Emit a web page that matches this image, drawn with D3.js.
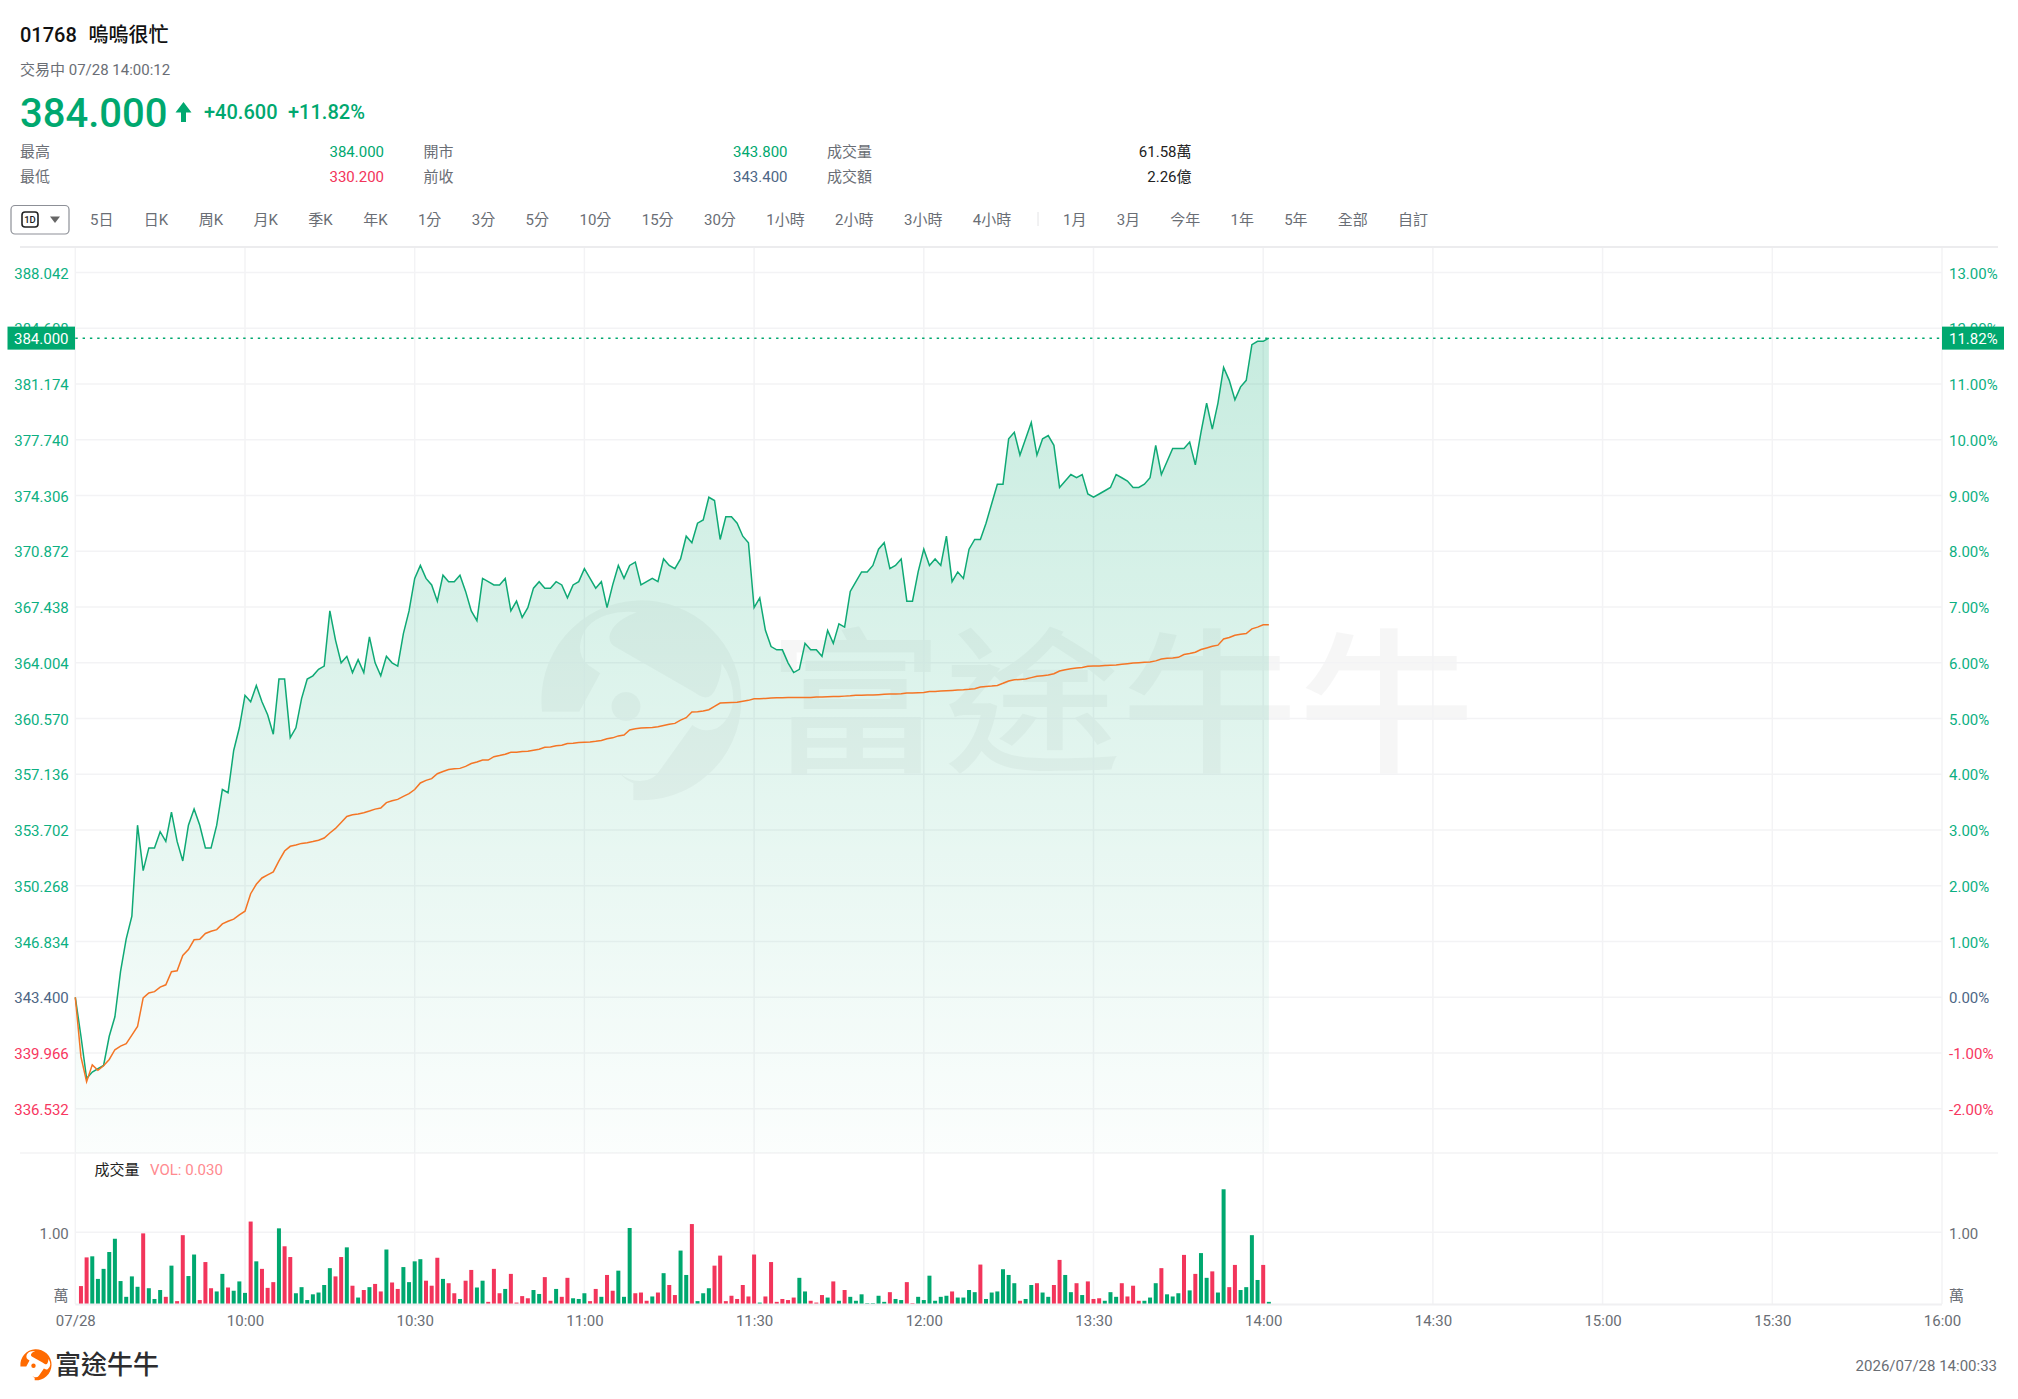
<!DOCTYPE html>
<html lang="zh-Hant">
<head>
<meta charset="UTF-8">
<title>01768 嗚嗚很忙</title>
<script src="https://d3js.org/d3.v7.min.js"></script>
<style>
  body { margin: 0; background: #fff; overflow: hidden; font-family: Roboto, "Noto Sans CJK TC", sans-serif; }
  svg { display: block; }
  svg text { font-family: Roboto, "Noto Sans CJK TC", sans-serif; }
  .axis text { font-size: 15px; }
  .axis .domain { display: none; }
</style>
</head>
<body>
<div id="chart"></div>
<script>
// quote header
const stockCode = "01768";
const stockName = "嗚嗚很忙";
const statusLine = "交易中 07/28 14:00:12";
const lastPrice = 384.0;
const prevClose = 343.4;
const changeText = "+40.600";
const changePct = "+11.82%";
const printedAt = "2026/07/28 14:00:33";

// toolbar
const toolbarLeft = ["5日", "日K", "周K", "月K", "季K", "年K", "1分", "3分", "5分", "10分", "15分", "30分", "1小時", "2小時", "3小時", "4小時"];
const toolbarRight = ["1月", "3月", "今年", "1年", "5年", "全部", "自訂"];

// axes
const priceTicks = [388.042, 384.608, 381.174, 377.74, 374.306, 370.872, 367.438, 364.004, 360.57, 357.136, 353.702, 350.268, 346.834, 343.4, 339.966, 336.532];
const pctTicks = ["13.00%", "12.00%", "11.00%", "10.00%", "9.00%", "8.00%", "7.00%", "6.00%", "5.00%", "4.00%", "3.00%", "2.00%", "1.00%", "0.00%", "-1.00%", "-2.00%"];
const timeTicks = [0, 30, 60, 90, 120, 150, 180, 210, 240, 270, 300, 330];
const timeLabels = ["07/28", "10:00", "10:30", "11:00", "11:30", "12:00", "13:30", "14:00", "14:30", "15:00", "15:30", "16:00"];

// last price per trading minute, index 0 = 09:30
const price = [
  343.4, 341.0, 338.4, 338.8, 339.0, 339.2, 341.0, 342.2, 345.0, 347.0,
  348.4, 354.0, 351.2, 352.6, 352.6, 353.6, 353.0, 354.8, 353.0, 351.8,
  354.0, 355.0, 354.0, 352.6, 352.6, 354.0, 356.2, 356.0, 358.6, 360.0,
  362.0, 361.6, 362.6, 361.6, 360.8, 359.6, 363.0, 363.0, 359.4, 360.0,
  361.8, 363.0, 363.2, 363.6, 363.8, 367.2, 365.4, 364.0, 364.4, 363.4,
  364.2, 363.4, 365.6, 364.0, 363.2, 364.4, 364.0, 363.8, 365.8, 367.2,
  369.2, 370.0, 369.2, 368.8, 367.8, 369.4, 369.0, 369.0, 369.4, 368.4,
  367.2, 366.6, 369.2, 369.0, 368.8, 368.8, 369.2, 367.2, 367.8, 366.8,
  367.4, 368.6, 369.0, 368.6, 368.6, 369.0, 368.8, 368.0, 368.8, 369.0,
  369.8, 369.2, 368.6, 369.0, 367.4, 368.8, 370.0, 369.2, 370.0, 370.2,
  368.8, 369.0, 369.2, 369.0, 370.4, 370.0, 369.8, 370.4, 371.8, 371.4,
  372.6, 372.8, 374.2, 374.0, 371.6, 373.0, 373.0, 372.6, 371.8, 371.4,
  367.4, 368.0, 366.0, 365.0, 364.8, 364.8, 364.0, 363.4, 363.6, 365.2,
  364.8, 364.8, 364.4, 366.0, 365.2, 366.4, 366.2, 368.4, 369.0, 369.6,
  369.6, 370.0, 371.0, 371.4, 369.8, 370.0, 370.4, 367.8, 367.8, 369.6,
  371.0, 370.0, 370.4, 370.0, 371.8, 369.0, 369.6, 369.2, 371.0, 371.6,
  371.6, 372.6, 373.8, 375.0, 375.0, 377.8, 378.2, 376.8, 377.8, 378.8,
  376.8, 377.8, 378.0, 377.4, 374.8, 375.2, 375.6, 375.4, 375.6, 374.4,
  374.2, 374.4, 374.6, 374.8, 375.6, 375.4, 375.2, 374.8, 374.8, 375.0,
  375.4, 377.4, 375.6, 376.4, 377.2, 377.2, 377.2, 377.6, 376.2, 378.2,
  380.0, 378.4, 380.0, 382.2, 381.4, 380.2, 381.0, 381.4, 383.6, 383.8,
  383.8, 384.0
];

// average price line
const avgPrice = [
  343.4, 339.73, 338.2, 339.24, 338.9, 339.18, 339.57, 340.17, 340.39, 340.54,
  341.07, 341.6, 343.36, 343.67, 343.75, 344.03, 344.17, 344.98, 345.03, 345.98,
  346.34, 346.94, 346.98, 347.33, 347.47, 347.57, 347.92, 348.08, 348.21, 348.47,
  348.7, 349.78, 350.36, 350.75, 350.94, 351.12, 351.8, 352.41, 352.7, 352.78,
  352.88, 352.92, 352.99, 353.07, 353.21, 353.52, 353.8, 354.17, 354.54, 354.64,
  354.69, 354.77, 354.87, 354.99, 355.06, 355.39, 355.51, 355.59, 355.78, 355.94,
  356.2, 356.6, 356.76, 356.87, 357.17, 357.31, 357.43, 357.48, 357.5, 357.62,
  357.8, 357.89, 358.01, 358.01, 358.22, 358.29, 358.37, 358.49, 358.49, 358.54,
  358.56, 358.62, 358.68, 358.8, 358.82, 358.89, 358.93, 359.03, 359.05, 359.09,
  359.11, 359.13, 359.17, 359.22, 359.32, 359.38, 359.5, 359.55, 359.87, 359.94,
  359.98, 360, 360.02, 360.06, 360.14, 360.22, 360.27, 360.47, 360.62, 360.97,
  360.99, 361.03, 361.11, 361.32, 361.52, 361.54, 361.56, 361.58, 361.64, 361.69,
  361.79, 361.79, 361.81, 361.83, 361.85, 361.85, 361.87, 361.87, 361.87, 361.87,
  361.87, 361.89, 361.89, 361.91, 361.93, 361.93, 361.95, 361.97, 362.0, 362.0,
  362.02, 362.02, 362.04, 362.06, 362.08, 362.08, 362.1, 362.14, 362.14, 362.16,
  362.18, 362.24, 362.24, 362.26, 362.28, 362.3, 362.32, 362.34, 362.37, 362.41,
  362.51, 362.55, 362.57, 362.61, 362.74, 362.88, 362.96, 362.98, 363, 363.09,
  363.17, 363.21, 363.25, 363.33, 363.5, 363.58, 363.64, 363.68, 363.72, 363.79,
  363.81, 363.81, 363.83, 363.85, 363.87, 363.91, 363.95, 363.99, 364.01, 364.03,
  364.05, 364.12, 364.24, 364.28, 364.3, 364.34, 364.51, 364.57, 364.65, 364.82,
  364.92, 365.02, 365.09, 365.47, 365.56, 365.7, 365.76, 365.8, 366.09, 366.2,
  366.34, 366.34
];

// volume per minute in 萬, first bar is index 1
const volume = [
  .25, .65, .665, .35, .49, .725, .91, .32, .1, .385, .24, .985, .22, .07, .195, .1, .535, .04, .96, .39,
  .69, .055, .585, .22, .175, .42, .23, .185, .315, .155, 1.15, .595, .49, .225, .305, 1.055, .805, .655, .15, .235,
  .055, .135, .16, .265, .5, .385, .655, .79, .255, .09, .195, .235, .28, .175, .76, .3, .21, .515, .305, .595,
  .625, .325, .255, .645, .35, .29, .15, .07, .325, .475, .23, .325, .03, .49, .15, .21, .42, .02, .11, .08,
  .195, .14, .375, .045, .21, .1, .365, .08, .07, .15, .04, .21, .1, .405, .185, .465, .1, 1.06, .15, .16,
  .045, .105, .16, .43, .265, .125, .745, .405, 1.115, .04, .15, .22, .535, .675, .04, .115, .07, .265, .105, .69,
  .02, .105, .585, .03, .07, .055, .09, .365, .175, .045, .02, .125, .09, .315, .045, .195, .1, .045, .135, .012,
  .012, .115, .03, .165, .07, .055, .305, .012, .1, .055, .395, .045, .1, .115, .175, .09, .09, .195, .165, .55,
  .07, .16, .175, .485, .405, .29, .045, .07, .265, .29, .16, .1, .265, .615, .405, .165, .29, .125, .315, .07,
  .08, .045, .165, .1, .29, .105, .255, .045, .045, .09, .29, .5, .135, .105, .15, .685, .19, .42, .71, .365,
  .455, .16, 1.6, .235, .545, .195, .235, .96, .335, .545, .03
];
// 1 = red bar, 0 = green bar
const volumeUp = [
  1, 1, 0, 0, 0, 0, 0, 0, 0, 0, 0, 1, 0, 0, 0, 1, 0, 1, 1, 0,
  0, 1, 1, 1, 0, 0, 1, 0, 0, 0, 1, 0, 1, 1, 1, 0, 1, 1, 0, 0,
  0, 0, 0, 0, 0, 1, 1, 0, 1, 0, 1, 0, 1, 1, 0, 1, 1, 0, 0, 0,
  0, 1, 1, 1, 0, 1, 1, 0, 1, 1, 0, 0, 1, 1, 1, 0, 1, 1, 1, 1,
  0, 0, 1, 1, 0, 1, 1, 0, 0, 0, 1, 1, 0, 1, 1, 0, 0, 0, 1, 1,
  1, 0, 1, 0, 1, 1, 0, 0, 1, 0, 0, 0, 1, 1, 1, 1, 1, 1, 1, 1,
  0, 1, 1, 1, 1, 1, 1, 0, 0, 1, 1, 1, 0, 1, 0, 1, 0, 0, 0, 0,
  0, 0, 0, 1, 0, 0, 1, 1, 0, 0, 0, 0, 0, 0, 1, 0, 0, 0, 0, 1,
  0, 0, 0, 0, 0, 0, 1, 0, 0, 1, 0, 0, 1, 1, 0, 0, 1, 0, 1, 1,
  1, 0, 0, 0, 1, 1, 1, 1, 0, 0, 0, 1, 0, 0, 0, 1, 0, 1, 0, 0,
  1, 0, 0, 1, 1, 0, 0, 0, 0, 1, 0
];

const GREEN = "#00a86f", RED = "#f2355b", SLATE = "#4d6685", GREY = "#6a6e75", GRID = "#f3f3f5";
const width = 2018, height = 1399;

const svg = d3.select("#chart").append("svg").attr("width", width).attr("height", height);

function label(x, y, text, size, fill, anchor, weight) {
  return svg.append("text").attr("x", x).attr("y", y).text(text)
    .attr("font-size", size).attr("fill", fill)
    .attr("text-anchor", anchor || "start").attr("font-weight", weight || 400);
}

// header
label(20, 42, stockCode, 20, "#111", "start", 500);
label(88.5, 42, stockName, 20, "#111", "start", 500);
label(20, 75, statusLine, 15, GREY);
label(20, 127, d3.format(".3f")(lastPrice), 40, GREEN, "start", 500);
svg.append("path").attr("d", "M183.5 102L191.5 112.5H186V122H181V112.5H175.5Z").attr("fill", GREEN);
label(204, 119, changeText, 20, GREEN, "start", 500);
label(288, 119, changePct, 20, GREEN, "start", 500);

label(20, 156.5, "最高", 15, GREY);
label(20, 181.5, "最低", 15, GREY);
label(384, 156.5, "384.000", 15, GREEN, "end");
label(384, 181.5, "330.200", 15, RED, "end");
label(423.5, 156.5, "開市", 15, GREY);
label(423.5, 181.5, "前收", 15, GREY);
label(787.5, 156.5, "343.800", 15, GREEN, "end");
label(787.5, 181.5, "343.400", 15, SLATE, "end");
label(827, 156.5, "成交量", 15, GREY);
label(827, 181.5, "成交額", 15, GREY);
label(1191.5, 156.5, "61.58萬", 15, "#222", "end");
label(1191.5, 181.5, "2.26億", 15, "#222", "end");

// toolbar
svg.append("rect").attr("x", 11).attr("y", 205.5).attr("width", 58).attr("height", 28.5).attr("rx", 4)
  .attr("fill", "#fff").attr("stroke", "#8d9097").attr("stroke-width", 1.2);
svg.append("rect").attr("x", 22).attr("y", 212).attr("width", 16).attr("height", 15).attr("rx", 3)
  .attr("fill", "none").attr("stroke", "#222").attr("stroke-width", 1.6);
label(30, 223, "1D", 9.5, "#222", "middle", 500);
svg.append("path").attr("d", "M50 216.5H60L55 223Z").attr("fill", "#666");

function toolbarRow(names, startX, gap) {
  let x = startX;
  names.forEach(name => {
    const t = label(x, 224.5, name, 15, GREY);
    x += t.node().getComputedTextLength() + gap;
  });
}
toolbarRow(toolbarLeft, 90, 30.4);
svg.append("line").attr("x1", 1038).attr("x2", 1038).attr("y1", 212).attr("y2", 226).attr("stroke", "#e4e4e6");
toolbarRow(toolbarRight, 1063, 30.2);

// scales
const x = d3.scaleLinear().domain([0, 330]).range([75.3, 1942]);
const y = d3.scaleLinear().domain([prevClose, 388.042]).range([997.3, 272.5]);
const yVol = d3.scaleLinear().domain([0, 1]).range([1304, 1232.3]);

// watermark
const LOGO_PATH = "M66 395H178L241 280L205 255Q180 235 180 200Q185 130 260 105Q305 92 350 97Q275 125 268 170Q268 190 285 200L490 318Q515 332 527 340Q570 372 590 320Q605 285 605 250Q640 300 640 360Q632 420 590 445Q550 460 517 435L420 570Q400 603 360 603Q325 603 295 575Q315 600 340 610V660A300 300 0 1 0 66 395Z";
const wm = svg.append("g").attr("fill", "rgba(0,0,0,0.035)");
wm.append("path").attr("d", LOGO_PATH).attr("transform", "translate(520,580) scale(0.3333)");
wm.append("circle").attr("cx", 626).attr("cy", 706.5).attr("r", 14.5);
wm.append("text").attr("x", 767).attr("y", 760).attr("font-size", 156).attr("font-weight", 500)
  .attr("textLength", 708).attr("lengthAdjust", "spacingAndGlyphs").text("富途牛牛");

// grid
const grid = svg.append("g").attr("stroke", GRID).attr("stroke-width", 1.5);
grid.selectAll(".h").data(priceTicks).join("line")
  .attr("x1", x(0)).attr("x2", x(330)).attr("y1", d => y(d)).attr("y2", d => y(d));
grid.selectAll(".v").data(timeTicks).join("line")
  .attr("x1", d => x(d)).attr("x2", d => x(d)).attr("y1", 247).attr("y2", 1304);
grid.append("line").attr("x1", x(0)).attr("x2", x(330)).attr("y1", yVol(1)).attr("y2", yVol(1));
grid.append("line").attr("x1", 20).attr("x2", 1998).attr("y1", 1153).attr("y2", 1153);
svg.append("line").attr("x1", 20).attr("x2", 1998).attr("y1", 247).attr("y2", 247)
  .attr("stroke", "#ececee").attr("stroke-width", 2);

// area under the price line
const defs = svg.append("defs");
const grad = defs.append("linearGradient").attr("id", "areaFill")
  .attr("gradientUnits", "userSpaceOnUse").attr("x1", 0).attr("x2", 0).attr("y1", y(lastPrice)).attr("y2", 1153);
grad.append("stop").attr("offset", 0).attr("stop-color", GREEN).attr("stop-opacity", 0.22);
grad.append("stop").attr("offset", 1).attr("stop-color", GREEN).attr("stop-opacity", 0.015);

svg.append("path").datum(price)
  .attr("d", d3.area().x((d, i) => x(i)).y0(1153).y1(d => y(d)))
  .attr("fill", "url(#areaFill)");
svg.append("path").datum(price)
  .attr("d", d3.line().x((d, i) => x(i)).y(d => y(d)))
  .attr("fill", "none").attr("stroke", "#0fa975").attr("stroke-width", 1.5);
svg.append("path").datum(avgPrice)
  .attr("d", d3.line().x((d, i) => x(i)).y(d => y(d)))
  .attr("fill", "none").attr("stroke", "#f47525").attr("stroke-width", 1.5);

// volume bars
svg.append("g").selectAll("rect").data(volume).join("rect")
  .attr("x", (d, i) => x(i + 1) - 2)
  .attr("width", 4)
  .attr("y", d => yVol(d))
  .attr("height", d => yVol(0) - yVol(d))
  .attr("fill", (d, i) => volumeUp[i] ? RED : GREEN);
svg.append("line").attr("x1", x(0)).attr("x2", x(330)).attr("y1", 1304.5).attr("y2", 1304.5)
  .attr("stroke", "#f0f0f2").attr("stroke-width", 2);

label(94.5, 1175, "成交量", 15, "#222");
label(150, 1175, "VOL: 0.030", 15, "#ff8a8f");

// axes
function priceColor(d) {
  if (Math.abs(d - prevClose) < 1e-6) return SLATE;
  return d > prevClose ? "#0cb082" : "#f7375f";
}

const leftAxis = svg.append("g").attr("class", "axis").attr("transform", `translate(${x(0)},0)`)
  .call(d3.axisLeft(y).tickValues(priceTicks).tickFormat(d3.format(".3f")).tickSize(0).tickPadding(6.5));
leftAxis.selectAll("text").attr("dy", "0.37em").attr("fill", priceColor);

const rightAxis = svg.append("g").attr("class", "axis").attr("transform", `translate(${x(330)},0)`)
  .call(d3.axisRight(y).tickValues(priceTicks).tickFormat((d, i) => pctTicks[i]).tickSize(0).tickPadding(7));
rightAxis.selectAll("text").attr("dy", "0.37em").attr("fill", priceColor);

const timeAxis = svg.append("g").attr("class", "axis").attr("transform", "translate(0,1304)")
  .call(d3.axisBottom(x).tickValues(timeTicks).tickFormat((d, i) => timeLabels[i]).tickSize(0).tickPadding(11));
timeAxis.selectAll("text").attr("fill", GREY);

const volLeft = svg.append("g").attr("class", "axis").attr("transform", `translate(${x(0)},1)`)
  .call(d3.axisLeft(yVol).tickValues([1]).tickFormat(d3.format(".2f")).tickSize(0).tickPadding(6.5));
volLeft.selectAll("text").attr("dy", "0.37em").attr("fill", GREY);
const volRight = svg.append("g").attr("class", "axis").attr("transform", `translate(${x(330)},1)`)
  .call(d3.axisRight(yVol).tickValues([1]).tickFormat(d3.format(".2f")).tickSize(0).tickPadding(7));
volRight.selectAll("text").attr("dy", "0.37em").attr("fill", GREY);
label(68.5, 1301, "萬", 15, GREY, "end");
label(1949, 1301, "萬", 15, GREY);

// last price marker
svg.append("line").attr("x1", x(0)).attr("x2", x(330)).attr("y1", y(lastPrice)).attr("y2", y(lastPrice))
  .attr("stroke", GREEN).attr("stroke-width", 1.5).attr("stroke-dasharray", "2.4 4.9");
svg.append("rect").attr("x", 7.5).attr("y", y(lastPrice) - 11.5).attr("width", 67.5).attr("height", 23).attr("fill", GREEN);
label(68.5, y(lastPrice) + 5.5, d3.format(".3f")(lastPrice), 15, "#fff", "end");
svg.append("rect").attr("x", 1942).attr("y", y(lastPrice) - 11.5).attr("width", 62).attr("height", 23).attr("fill", GREEN);
label(1949, y(lastPrice) + 5.5, "11.82%", 15, "#fff");

// footer
svg.append("path").attr("d", LOGO_PATH).attr("fill", "#ff6a00")
  .attr("transform", "translate(17,1346) scale(0.052)");
svg.append("circle").attr("cx", 33.5).attr("cy", 1365.7).attr("r", 2.2).attr("fill", "#ff6a00");
label(55, 1374, "富途牛牛", 26, "#2d2d2f", "start", 500);
label(1997, 1371, printedAt, 15, GREY, "end");
</script>
</body>
</html>
